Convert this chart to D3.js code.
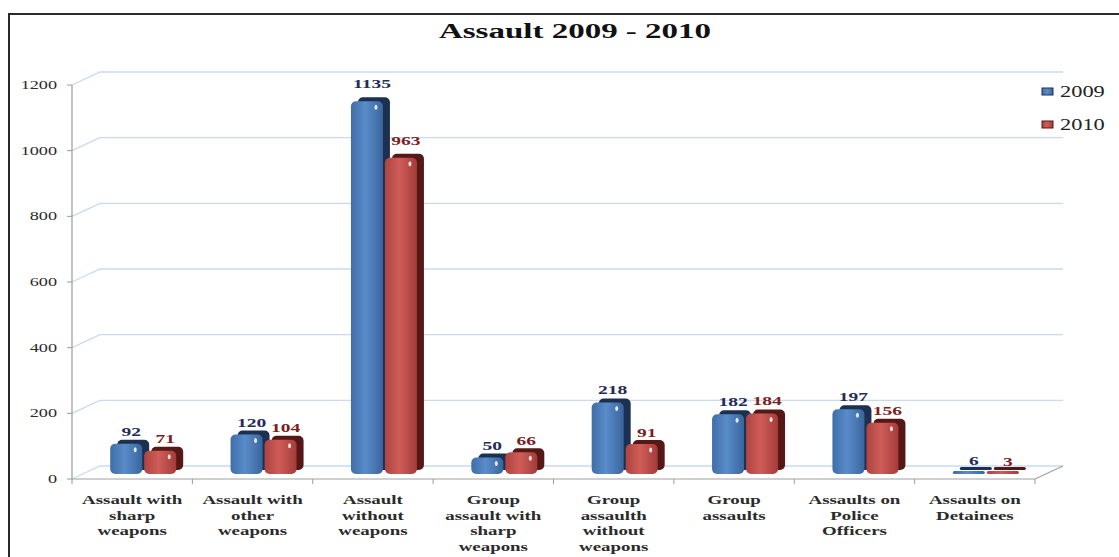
<!DOCTYPE html>
<html><head><meta charset="utf-8">
<script src="https://cdn.jsdelivr.net/npm/d3@7"></script>
<style>body{margin:0;background:#fff;}svg{display:block;}</style>
</head><body>
<svg id="chart" width="1119" height="557"></svg>
<script>
const categories = ["Assault with sharp weapons","Assault with other weapons","Assault without weapons","Group assault with sharp weapons","Group assaulth without weapons","Group assaults","Assaults on Police Officers","Assaults on Detainees"];
const categoryLines = [["Assault with","sharp","weapons"],["Assault with","other","weapons"],["Assault","without","weapons"],["Group","assault with","sharp","weapons"],["Group","assaulth","without","weapons"],["Group","assaults"],["Assaults on","Police","Officers"],["Assaults on","Detainees"]];
const seriesNames = ["2009","2010"];
const values2009 = [92,120,1135,50,218,182,197,6];
const values2010 = [71,104,963,66,91,184,156,3];
const yTicks = [0,200,400,600,800,1000,1200];
const title = "Assault 2009 - 2010";

const svg = d3.select("#chart");
const SX = 1.4;
const serif = "'Liberation Serif','Times New Roman',serif";

// frame
svg.append("path").attr("d","M9,560 V14 H1125").attr("fill","none").attr("stroke","#2a2a2a").attr("stroke-width",2);

const x = d3.scaleBand().domain(categories).range([72,1035]);
const y = d3.scaleLinear().domain([0,1200]).range([479,85]);
const DX = 28, DY = -13;

const defs = svg.append("defs");
function grad(id, c0, c1, c2){
  const g = defs.append("linearGradient").attr("id",id).attr("x1","0").attr("x2","1").attr("y1","0").attr("y2","0");
  g.append("stop").attr("offset","0%").attr("stop-color",c0);
  g.append("stop").attr("offset","45%").attr("stop-color",c1);
  g.append("stop").attr("offset","100%").attr("stop-color",c2);
}
grad("gBlue","#3f6ea8","#5a8cca","#3a659d");
grad("gRed","#ad4340","#cf5d59","#a43b38");
const colors = {"2009":{fill:"url(#gBlue)",dark:"#1c3152",label:"#1f2d5c"},"2010":{fill:"url(#gRed)",dark:"#561816",label:"#7b1f1f"}};

// gridlines
const grid = svg.append("g");
yTicks.forEach(t=>{
  grid.append("path").attr("d",`M72,${y(t)} L${72+DX},${y(t)+DY} H1063`).attr("fill","none").attr("stroke","#c9daf0").attr("stroke-width",1.3);
});
// floor front edge and right side
svg.append("path").attr("d",`M72,${y(0)} H1035 L1063,${y(0)+DY}`).attr("fill","none").attr("stroke","#a0a0a0").attr("stroke-width",1.2);
// y axis
svg.append("line").attr("x1",72).attr("x2",72).attr("y1",y(1200)).attr("y2",y(0)).attr("stroke","#9a9a9a").attr("stroke-width",1.2);
yTicks.forEach(t=>{
  svg.append("line").attr("x1",67).attr("x2",72).attr("y1",y(t)).attr("y2",y(t)).attr("stroke","#9a9a9a");
  svg.append("text").attr("transform",`translate(57,${y(t)+4}) scale(${SX},1)`).attr("text-anchor","end")
    .attr("font-family",serif).attr("font-size",13).attr("fill","#2a2a2a").text(t);
});
// x ticks
const bounds = categories.map(c=>x(c)).concat([x.range()[1]]);
bounds.forEach(b=>{
  svg.append("line").attr("x1",b).attr("x2",b).attr("y1",y(0)).attr("y2",y(0)+5).attr("stroke","#9a9a9a");
});
// x labels
categories.forEach((c,i)=>{
  const cx = x(c)+x.bandwidth()/2;
  categoryLines[i].forEach((ln,j)=>{
    svg.append("text").attr("transform",`translate(${cx},${504+j*15.5}) scale(${SX},1)`).attr("text-anchor","middle")
      .attr("font-family",serif).attr("font-size",13.5).attr("font-weight","bold").attr("fill","#2b2b2b").text(ln);
  });
});

// bars
const bw = 32;
const offsets = {"2009":-22,"2010":12};
const series = [{name:"2009",vals:values2009},{name:"2010",vals:values2010}];
const barsG = svg.append("g");
const labelsG = svg.append("g");
categories.forEach((c,i)=>{
  const cx = x(c)+x.bandwidth()/2;
  series.forEach(s=>{
    const v = s.vals[i];
    const col = colors[s.name];
    const bx = cx + offsets[s.name];
    const bottom = y(0)-5;
    const top = y(v)-5;
    const h = Math.max(bottom-top,3);
    const r = Math.min(5,h/2);
    barsG.append("rect").attr("x",bx+7).attr("y",bottom-h-4).attr("width",bw).attr("height",h).attr("rx",r).attr("fill",col.dark);
    barsG.append("rect").attr("x",bx).attr("y",bottom-h).attr("width",bw).attr("height",h).attr("rx",r).attr("fill",col.fill);
    if(h>10){
      barsG.append("ellipse").attr("cx",bx+bw-7).attr("cy",bottom-h+6).attr("rx",1.5).attr("ry",2.5).attr("fill","#fff").attr("opacity",0.85);
    }
    labelsG.append("text").attr("transform",`translate(${bx+bw/2+5},${top-7-v*0.006}) scale(1.5,1)`).attr("text-anchor","middle")
      .attr("font-family",serif).attr("font-size",13).attr("font-weight","bold").attr("fill",col.label).text(v);
  });
});

// title
svg.append("text").attr("transform",`translate(575,38) scale(1.5,1)`).attr("text-anchor","middle")
  .attr("font-family",serif).attr("font-size",22).attr("font-weight","bold").attr("fill","#111").text(title);

// legend
seriesNames.forEach((n,i)=>{
  const ly = 97 + i*33;
  svg.append("rect").attr("x",1042).attr("y",ly-9).attr("width",11).attr("height",7).attr("fill",n==="2009"?"url(#gBlue)":"url(#gRed)").attr("stroke",colors[n].dark).attr("stroke-width",1);
  svg.append("text").attr("transform",`translate(1060,${ly}) scale(${SX},1)`).attr("font-family",serif).attr("font-size",16).attr("fill","#222").text(n);
});
</script>
</body></html>
